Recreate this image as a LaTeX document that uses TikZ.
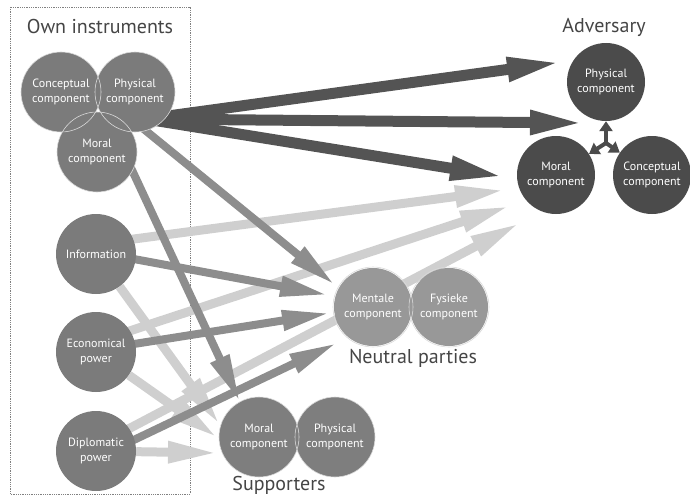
\documentclass[tikz,border=0pt]{standalone}
\usepackage{fontspec}
\setmainfont{PT Sans}
\usepackage{tikz}
\usetikzlibrary{arrows.meta, positioning, calc}
\definecolor{owngray}{HTML}{7B7B7B}
\definecolor{advgray}{HTML}{4B4B4B}
\definecolor{neutgray}{HTML}{989898}
\definecolor{suppgray}{HTML}{7E7E7E}
\definecolor{darkarr}{HTML}{545454}
\definecolor{midarr}{HTML}{8D8D8D}
\definecolor{lightarr}{HTML}{CFCFCF}
\definecolor{labelgray}{HTML}{454545}
\pgfdeclarelayer{background}
\pgfsetlayers{background,main}
\tikzstyle{comp} = [circle, minimum size=80pt, inner sep=0pt, text=white, align=center, font=\fontsize{12}{15}\selectfont]
\tikzstyle{own} = [comp, fill=owngray]
\tikzstyle{adv} = [comp, fill=advgray, minimum size=78pt]
\tikzstyle{neutral} = [comp, fill=neutgray, minimum size=78pt]
\tikzstyle{supp} = [comp, fill=suppgray]
\tikzstyle{ring} = [draw=white!70!gray, line width=0.6pt]
\tikzstyle{title} = [text=labelgray, font=\fontsize{20}{20}\selectfont]
\tikzstyle{darkarrow} = [line width=11pt, draw=darkarr, -{Triangle[length=55pt,width=22pt]}]
\tikzstyle{midarrow} = [line width=8pt, draw=midarr, -{Triangle[length=48pt,width=19pt]}]
\tikzstyle{lightarrow} = [line width=9pt, draw=lightarr, -{Triangle[length=50pt,width=20pt]}]
\tikzstyle{triarrow} = [line width=4pt, draw=advgray, -{Triangle[length=10pt,width=13pt]}]

\begin{document}
\begin{tikzpicture}[x=1pt, y=-1pt]
    \useasboundingbox (0,0) rectangle (690,503);

    % own instruments
    \node (ownconc) [own] at (61,92) {Conceptual\\component};
    \node (ownphys) [own, right of=ownconc, node distance=74pt] {Physical\\component};
    \node (ownmoral) [own] at (97,152) {Moral\\component};
    \node (info) [own] at (96,254) {Information};
    \node (econ) [own, below of=info, node distance=98pt] {Economical\\power};
    \node (diplo) [own, below of=econ, node distance=99pt] {Diplomatic\\power};
    \node (owntitle) [title] at (100,27) {Own instruments};

    % adversary
    \node (advphys) [adv] at (606,82) {Physical\\component};
    \node (advmoral) [adv] at (556,175) {Moral\\component};
    \node (advconc) [adv, right of=advmoral, node distance=96pt] {Conceptual\\component};
    \node (advtitle) [title] at (604,27) {Adversary};

    % neutral parties
    \node (ment) [neutral] at (373,307) {Mentale\\component};
    \node (fys) [neutral, right of=ment, node distance=76pt] {Fysieke\\component};
    \node (neuttitle) [title] at (413,358) {Neutral parties};

    % supporters
    \node (suppmoral) [supp] at (259,437) {Moral\\component};
    \node (suppphys) [supp, right of=suppmoral, node distance=76pt] {Physical\\component};
    \node (supptitle) [title] at (279,485) {Supporters};

    \foreach \n in {ownconc, ownphys, ownmoral, ment, fys, suppmoral, suppphys}
        \draw [ring] (\n.center) circle (40pt);

    % arrow ends
    \coordinate (hub) at (146,119);
    \coordinate (advhub) at (606,143);
    \coordinate (tphys) at (562,62);
    \coordinate (tmid) at (585,123);
    \coordinate (tmoral) at (505,177);
    \coordinate (tinfo) at (505,190);
    \coordinate (tecon) at (510,206);
    \coordinate (tdiplo) at (520,223);
    \coordinate (mhub) at (140,126);
    \coordinate (mmoral) at (335,285);
    \coordinate (minfo) at (328,295);
    \coordinate (mecon) at (330,313);
    \coordinate (mdiplo) at (337,343);
    \coordinate (smoral) at (240,402);
    \coordinate (sinfo) at (220,425);
    \coordinate (secon) at (218,438);
    \coordinate (sdiplo) at (218,453);

    \begin{pgfonlayer}{background}
        \draw [densely dotted, gray, line width=0.8pt] (10,7) rectangle (190,494);

        \draw [lightarrow] ($(info)+(0,-10)$) -- (tinfo);
        \draw [lightarrow] ($(econ)+(0,-10)$) -- (tecon);
        \draw [lightarrow] ($(diplo)+(0,-5)$) -- (tdiplo);
        \draw [lightarrow] (info) -- (sinfo);
        \draw [lightarrow] (econ) -- (secon);
        \draw [lightarrow] (diplo) -- (sdiplo);

        \draw [midarrow] ($(info)+(0,-2)$) -- (minfo);
        \draw [midarrow] ($(econ)+(0,-2)$) -- (mecon);
        \draw [midarrow] ($(diplo)+(0,7)$) -- (mdiplo);
        \draw [midarrow] (mhub) -- (mmoral);
        \draw [midarrow] ($(ownmoral)+(28,3)$) -- (smoral);

        \draw [darkarrow] (hub) -- (tphys);
        \draw [darkarrow] (hub) -- (tmid);
        \draw [darkarrow] (hub) -- (tmoral);
    \end{pgfonlayer}

    \draw [triarrow] (advhub) -- (advphys);
    \draw [triarrow] (advhub) -- (advmoral);
    \draw [triarrow] (advhub) -- (advconc);
\end{tikzpicture}
\end{document}
